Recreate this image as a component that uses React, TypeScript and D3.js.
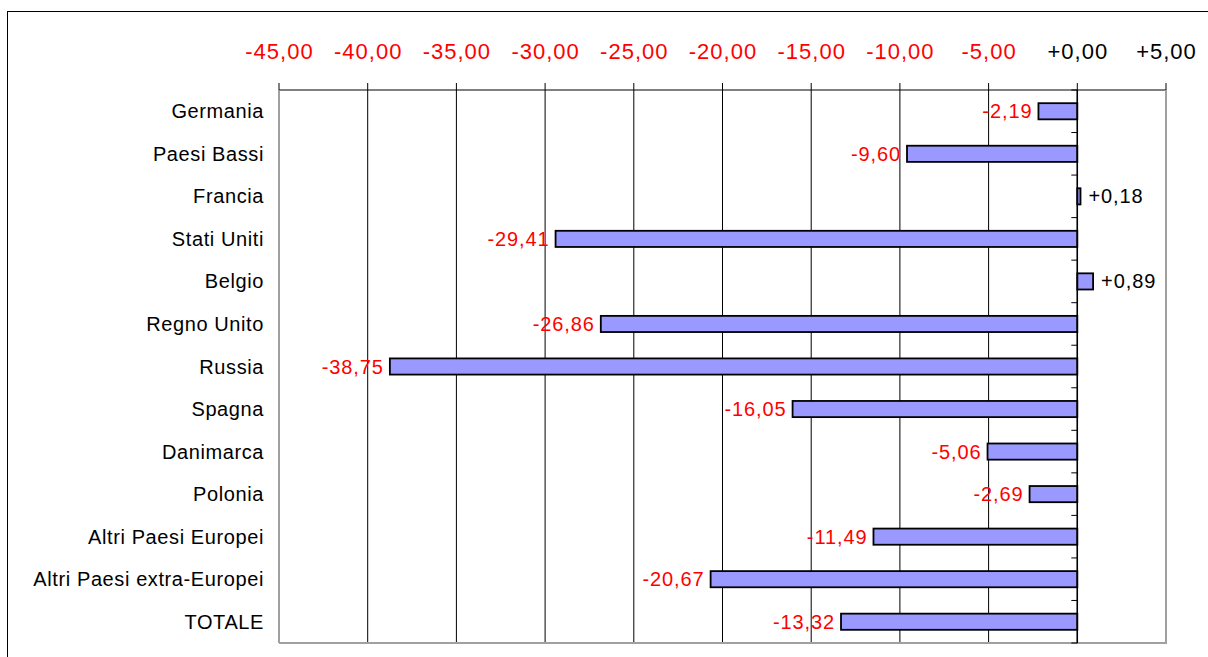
import React from "react";
import * as d3 from "d3";

const categories = [
  "Germania",
  "Paesi Bassi",
  "Francia",
  "Stati Uniti",
  "Belgio",
  "Regno Unito",
  "Russia",
  "Spagna",
  "Danimarca",
  "Polonia",
  "Altri Paesi Europei",
  "Altri Paesi extra-Europei",
  "TOTALE",
];
const values = [-2.19, -9.6, 0.18, -29.41, 0.89, -26.86, -38.75, -16.05, -5.06, -2.69, -11.49, -20.67, -13.32];
const tickValues = [-45, -40, -35, -30, -25, -20, -15, -10, -5, 0, 5];

const W = 1208;
const H = 657;
const plot = { left: 279, right: 1166, top: 90, bottom: 643 };
const FONT = "'Liberation Sans', Arial, sans-serif";

const fmt = (v: number) => (v < 0 ? "-" : "+") + Math.abs(v).toFixed(2).replace(".", ",");

export default function App() {
  const x = d3.scaleLinear().domain([-45, 5]).range([plot.left, plot.right]);
  const y = d3
    .scaleBand<string>()
    .domain(categories)
    .range([plot.top, plot.bottom])
    .paddingInner(0.62)
    .paddingOuter(0.31);
  const step = (plot.bottom - plot.top) / categories.length;
  const x0 = x(0);

  return (
    <svg
      width={W}
      height={H}
      style={{ position: "absolute", left: 0, top: 0, background: "#fff" }}
      fontFamily={FONT}
    >
      <rect x={7.5} y={11.5} width={1220} height={660} fill="#fff" stroke="#000" strokeWidth={1} />
      {/* gridlines and top ticks */}
      {tickValues.map((t) => (
        <g key={t}>
          <line x1={x(t)} x2={x(t)} y1={plot.top - 7} y2={plot.top} stroke="#000" strokeWidth={1} />
          {t > -45 && t < 5 && (
            <line x1={x(t)} x2={x(t)} y1={plot.top} y2={plot.bottom} stroke="#000" strokeWidth={1} />
          )}
          <text
            x={x(t) + 0.5}
            y={59}
            textAnchor="middle"
            fontSize={22}
            letterSpacing={1}
            fill={t < 0 ? "#ff0000" : "#000"}
          >
            {fmt(t)}
          </text>
        </g>
      ))}
      {/* plot frame */}
      <line x1={plot.left} x2={plot.right} y1={plot.top} y2={plot.top} stroke="#000" strokeWidth={1} />
      <line x1={plot.left} x2={plot.left} y1={plot.top} y2={plot.bottom} stroke="#808080" strokeWidth={1.5} />
      <line x1={plot.right} x2={plot.right} y1={plot.top} y2={plot.bottom} stroke="#a0a0a0" strokeWidth={2} />
      <line x1={plot.left} x2={plot.right + 1} y1={plot.bottom} y2={plot.bottom} stroke="#a0a0a0" strokeWidth={2} />
      {/* bars */}
      {categories.map((c, i) => {
        const v = values[i];
        const y0 = y(c)!;
        const bx = Math.min(x(v), x0);
        const bw = Math.abs(x(v) - x0);
        const cy = y0 + y.bandwidth() / 2;
        return (
          <g key={c}>
            <rect
              x={bx}
              y={y0}
              width={Math.max(bw, 1)}
              height={y.bandwidth()}
              fill="#9999ff"
              stroke="#000"
              strokeWidth={1.8}
            />
            <text
              x={v < 0 ? x(v) - 6 : x(v) + 8}
              y={cy}
              dy="0.35em"
              textAnchor={v < 0 ? "end" : "start"}
              fontSize={20}
              letterSpacing={0.9}
              fill={v < 0 ? "#ff0000" : "#000"}
            >
              {fmt(v)}
            </text>
            <text
              x={264}
              y={cy}
              dy="0.35em"
              textAnchor="end"
              fontSize={20}
              letterSpacing={0.6}
              fill="#000"
            >
              {c}
            </text>
          </g>
        );
      })}
      {/* category axis at zero */}
      <line x1={x0} x2={x0} y1={plot.top} y2={plot.bottom} stroke="#000" strokeWidth={1.5} />
      {d3.range(categories.length + 1).map((k) => (
        <line
          key={k}
          x1={x0 - 6}
          x2={x0}
          y1={plot.top + k * step}
          y2={plot.top + k * step}
          stroke="#000"
          strokeWidth={1}
        />
      ))}
    </svg>
  );
}
